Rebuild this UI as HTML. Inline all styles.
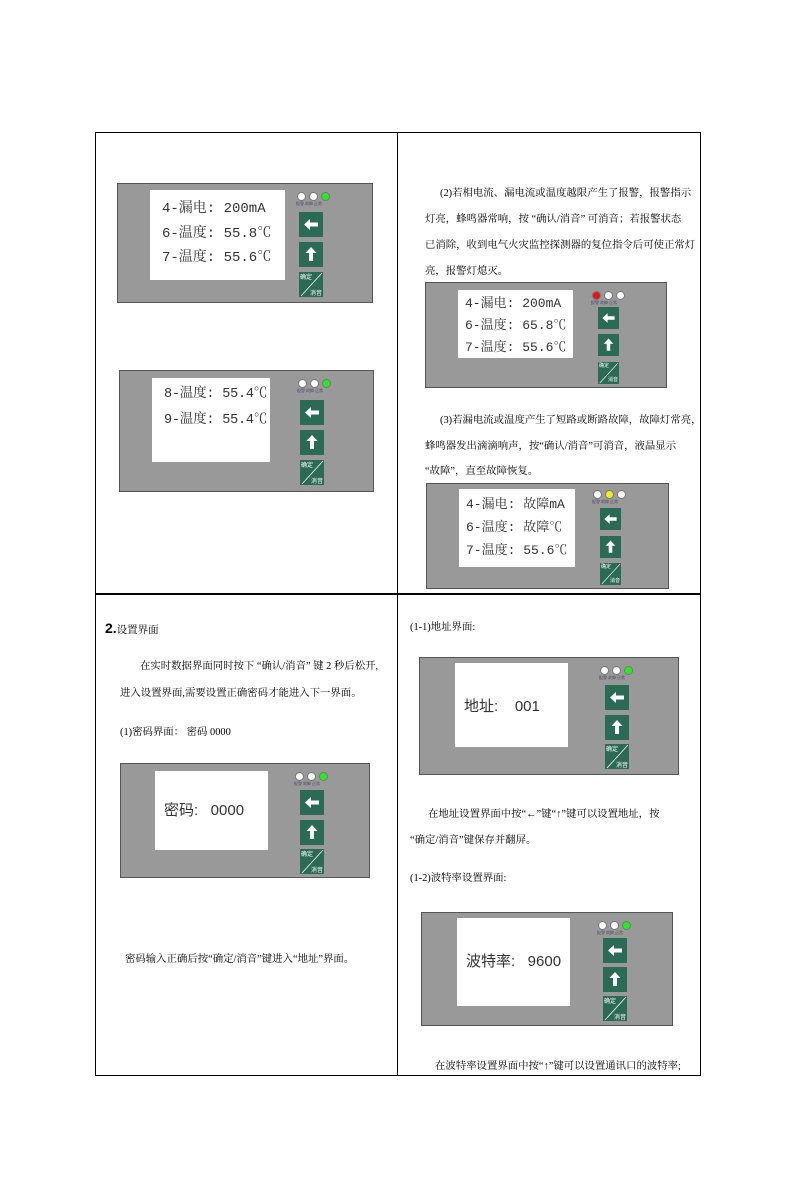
<!DOCTYPE html>
<html><head><meta charset="utf-8">
<style>
body{margin:0;width:800px;height:1200px;background:#fff;position:relative;overflow:hidden;font-family:"Liberation Serif","Noto Serif CJK SC",serif;color:#000}
.a{position:absolute}
.p{position:absolute;background:#999;border:1px solid #555;box-sizing:border-box}
.lcd{position:absolute;background:#fff;box-sizing:border-box;color:#333;font-family:"Liberation Mono","Noto Serif CJK SC",monospace;white-space:nowrap;overflow:hidden}
.ctl{position:absolute;width:30px;height:110px}
.led{position:absolute;top:0;width:9px;height:9px;border-radius:50%;background:#fff;border:1px solid #777;box-sizing:border-box}
.lab{position:absolute;top:9px;font-size:4px;color:#335;white-space:nowrap;left:-1px}
.b{position:absolute;left:2px;width:24px;height:25px;background:#2b6a55;overflow:hidden}
.s .b{width:21px;height:22px}
.b svg{position:absolute;left:0;top:0;width:100%;height:100%}
.b3 i{position:absolute;font-style:normal;font-size:6px;line-height:7px;color:#fff;font-family:"Noto Sans CJK SC",sans-serif;white-space:nowrap}
.s .b3 i{font-size:5px;line-height:6px}
.t{position:absolute;font-size:10.4px;white-space:nowrap;font-family:"Liberation Serif","Noto Serif CJK SC",serif}
</style></head><body>
<div class="a" style="left:95px;top:132px;width:606px;height:944px;border:1px solid #000;box-sizing:border-box"></div>
<div class="a" style="left:397px;top:132px;width:1px;height:944px;background:#000"></div>
<div class="a" style="left:95px;top:593px;width:606px;height:2px;background:#000"></div>

<!-- Panel 1 -->
<div class="p" style="left:117px;top:183px;width:256px;height:120px"></div>
<div class="lcd" style="left:150px;top:190px;width:135px;height:90px;font-size:14px;line-height:24.5px;padding:7px 0 0 12px">4-漏电: 200mA<br>6-温度: 55.8℃<br>7-温度: 55.6℃</div>
<div class="ctl" style="left:297px;top:192px">
<div class="led" style="left:0"></div><div class="led" style="left:12px"></div><div class="led" style="left:24px;background:#2e2"></div>
<div class="lab">报警 故障 正常</div>
<div class="b" style="top:20px"><svg viewBox="0 0 24 25"><path d="M5 12.5 L11 7 L11 10.5 L19 10.5 L19 14.5 L11 14.5 L11 18 Z" fill="#fff"/></svg></div>
<div class="b" style="top:50px"><svg viewBox="0 0 24 25"><path d="M12 5 L17.5 11 L14 11 L14 19 L10 19 L10 11 L6.5 11 Z" fill="#fff"/></svg></div>
<div class="b b3" style="top:80px"><svg viewBox="0 0 24 25"><line x1="2" y1="24" x2="23" y2="1" stroke="#fff" stroke-width="0.8"/></svg><i style="left:1px;top:1px">确定</i><i style="right:1px;bottom:1px">消音</i></div>
</div>

<!-- Panel 2 -->
<div class="p" style="left:119px;top:370px;width:255px;height:122px"></div>
<div class="lcd" style="left:152px;top:378px;width:118px;height:84px;font-size:13.5px;line-height:26px;padding:4px 0 0 12px;letter-spacing:-0.2px">8-温度: 55.4℃<br>9-温度: 55.4℃</div>
<div class="ctl" style="left:298px;top:379px">
<div class="led" style="left:0"></div><div class="led" style="left:12px"></div><div class="led" style="left:24px;background:#2e2"></div>
<div class="lab">报警 故障 正常</div>
<div class="b" style="top:21px"><svg viewBox="0 0 24 25"><path d="M5 12.5 L11 7 L11 10.5 L19 10.5 L19 14.5 L11 14.5 L11 18 Z" fill="#fff"/></svg></div>
<div class="b" style="top:51px"><svg viewBox="0 0 24 25"><path d="M12 5 L17.5 11 L14 11 L14 19 L10 19 L10 11 L6.5 11 Z" fill="#fff"/></svg></div>
<div class="b b3" style="top:81px"><svg viewBox="0 0 24 25"><line x1="2" y1="24" x2="23" y2="1" stroke="#fff" stroke-width="0.8"/></svg><i style="left:1px;top:1px">确定</i><i style="right:1px;bottom:1px">消音</i></div>
</div>

<div class="t" style="left:440px;top:184px">(2)若相电流、漏电流或温度越限产生了报警，报警指示</div>
<div class="t" style="left:425px;top:210px">灯亮，蜂鸣器常响，按 “确认/消音” 可消音；若报警状态</div>
<div class="t" style="left:425px;top:236px">已消除，收到电气火灾监控探测器的复位指令后可使正常灯</div>
<div class="t" style="left:425px;top:262px">亮，报警灯熄灭。</div>

<!-- Panel 3 -->
<div class="p" style="left:425px;top:282px;width:242px;height:106px"></div>
<div class="lcd" style="left:458px;top:290px;width:115px;height:68px;font-size:13px;line-height:22px;padding:3px 0 0 7px">4-漏电: 200mA<br>6-温度: 65.8℃<br>7-温度: 55.6℃</div>
<div class="ctl s" style="left:592px;top:291px">
<div class="led" style="left:0;background:#e11"></div><div class="led" style="left:12px"></div><div class="led" style="left:24px"></div>
<div class="lab">报警 故障 正常</div>
<div class="b" style="top:16px;left:6px"><svg viewBox="0 0 24 25"><path d="M5 12.5 L11 7 L11 10.5 L19 10.5 L19 14.5 L11 14.5 L11 18 Z" fill="#fff"/></svg></div>
<div class="b" style="top:43px;left:6px"><svg viewBox="0 0 24 25"><path d="M12 5 L17.5 11 L14 11 L14 19 L10 19 L10 11 L6.5 11 Z" fill="#fff"/></svg></div>
<div class="b b3" style="top:71px;left:6px"><svg viewBox="0 0 24 25"><line x1="2" y1="24" x2="23" y2="1" stroke="#fff" stroke-width="0.8"/></svg><i style="left:1px;top:1px">确定</i><i style="right:1px;bottom:1px">消音</i></div>
</div>

<div class="t" style="left:440px;top:411px">(3)若漏电流或温度产生了短路或断路故障，故障灯常亮，</div>
<div class="t" style="left:425px;top:437px">蜂鸣器发出滴滴响声，按“确认/消音”可消音，液晶显示</div>
<div class="t" style="left:425px;top:462px">“故障”，直至故障恢复。</div>

<!-- Panel 4 -->
<div class="p" style="left:426px;top:483px;width:243px;height:106px"></div>
<div class="lcd" style="left:459px;top:489px;width:116px;height:78px;font-size:13px;line-height:23px;padding:4px 0 0 7px">4-漏电: 故障mA<br>6-温度: 故障℃<br>7-温度: 55.6℃</div>
<div class="ctl s" style="left:593px;top:490px">
<div class="led" style="left:0"></div><div class="led" style="left:12px;background:#ee2"></div><div class="led" style="left:24px"></div>
<div class="lab">报警 故障 正常</div>
<div class="b" style="top:18px;left:7px"><svg viewBox="0 0 24 25"><path d="M5 12.5 L11 7 L11 10.5 L19 10.5 L19 14.5 L11 14.5 L11 18 Z" fill="#fff"/></svg></div>
<div class="b" style="top:46px;left:7px"><svg viewBox="0 0 24 25"><path d="M12 5 L17.5 11 L14 11 L14 19 L10 19 L10 11 L6.5 11 Z" fill="#fff"/></svg></div>
<div class="b b3" style="top:73px;left:7px"><svg viewBox="0 0 24 25"><line x1="2" y1="24" x2="23" y2="1" stroke="#fff" stroke-width="0.8"/></svg><i style="left:1px;top:1px">确定</i><i style="right:1px;bottom:1px">消音</i></div>
</div>

<!-- Section 2 left -->
<div class="t" style="left:105px;top:620px;font-size:10.5px"><b style="font-size:14px;font-family:'Liberation Sans',sans-serif">2.</b>设置界面</div>
<div class="t" style="left:140px;top:657px">在实时数据界面同时按下 “确认/消音” 键 2 秒后松开,</div>
<div class="t" style="left:120px;top:684px">进入设置界面,需要设置正确密码才能进入下一界面。</div>
<div class="t" style="left:120px;top:723px">(1)密码界面： 密码 0000</div>

<!-- Panel 5 -->
<div class="p" style="left:120px;top:763px;width:250px;height:115px"></div>
<div class="lcd" style="left:155px;top:771px;width:113px;height:79px;font-size:15px;line-height:79px;padding-left:9px;font-family:'Liberation Sans','Noto Sans CJK SC',sans-serif">密码:&nbsp;&nbsp; 0000</div>
<div class="ctl" style="left:295px;top:772px">
<div class="led" style="left:0"></div><div class="led" style="left:12px"></div><div class="led" style="left:24px;background:#2e2"></div>
<div class="lab">报警 故障 正常</div>
<div class="b" style="top:18px;left:5px"><svg viewBox="0 0 24 25"><path d="M5 12.5 L11 7 L11 10.5 L19 10.5 L19 14.5 L11 14.5 L11 18 Z" fill="#fff"/></svg></div>
<div class="b" style="top:48px;left:5px"><svg viewBox="0 0 24 25"><path d="M12 5 L17.5 11 L14 11 L14 19 L10 19 L10 11 L6.5 11 Z" fill="#fff"/></svg></div>
<div class="b b3" style="top:77px;left:5px"><svg viewBox="0 0 24 25"><line x1="2" y1="24" x2="23" y2="1" stroke="#fff" stroke-width="0.8"/></svg><i style="left:1px;top:1px">确定</i><i style="right:1px;bottom:1px">消音</i></div>
</div>
<div class="t" style="left:125px;top:950px">密码输入正确后按“确定/消音”键进入“地址”界面。</div>

<!-- Section 2 right -->
<div class="t" style="left:410px;top:618px">(1-1)地址界面:</div>
<div class="p" style="left:419px;top:657px;width:260px;height:118px"></div>
<div class="lcd" style="left:455px;top:663px;width:113px;height:84px;font-size:15px;line-height:88px;padding-left:9px;font-family:'Liberation Sans','Noto Sans CJK SC',sans-serif">地址:&nbsp;&nbsp;&nbsp; 001</div>
<div class="ctl" style="left:600px;top:666px">
<div class="led" style="left:0"></div><div class="led" style="left:12px"></div><div class="led" style="left:24px;background:#2e2"></div>
<div class="lab">报警 故障 正常</div>
<div class="b" style="top:19px;left:5px"><svg viewBox="0 0 24 25"><path d="M5 12.5 L11 7 L11 10.5 L19 10.5 L19 14.5 L11 14.5 L11 18 Z" fill="#fff"/></svg></div>
<div class="b" style="top:49px;left:5px"><svg viewBox="0 0 24 25"><path d="M12 5 L17.5 11 L14 11 L14 19 L10 19 L10 11 L6.5 11 Z" fill="#fff"/></svg></div>
<div class="b b3" style="top:78px;left:5px"><svg viewBox="0 0 24 25"><line x1="2" y1="24" x2="23" y2="1" stroke="#fff" stroke-width="0.8"/></svg><i style="left:1px;top:1px">确定</i><i style="right:1px;bottom:1px">消音</i></div>
</div>
<div class="t" style="left:428px;top:805px">在地址设置界面中按“←”键“↑”键可以设置地址，按</div>
<div class="t" style="left:410px;top:831px">“确定/消音”键保存并翻屏。</div>
<div class="t" style="left:410px;top:869px">(1-2)波特率设置界面:</div>

<div class="p" style="left:421px;top:912px;width:252px;height:114px"></div>
<div class="lcd" style="left:457px;top:918px;width:113px;height:88px;font-size:15px;line-height:88px;padding-left:9px;font-family:'Liberation Sans','Noto Sans CJK SC',sans-serif">波特率:&nbsp;&nbsp; 9600</div>
<div class="ctl" style="left:598px;top:921px">
<div class="led" style="left:0"></div><div class="led" style="left:12px"></div><div class="led" style="left:24px;background:#2e2"></div>
<div class="lab">报警 故障 正常</div>
<div class="b" style="top:17px;left:5px"><svg viewBox="0 0 24 25"><path d="M5 12.5 L11 7 L11 10.5 L19 10.5 L19 14.5 L11 14.5 L11 18 Z" fill="#fff"/></svg></div>
<div class="b" style="top:46px;left:5px"><svg viewBox="0 0 24 25"><path d="M12 5 L17.5 11 L14 11 L14 19 L10 19 L10 11 L6.5 11 Z" fill="#fff"/></svg></div>
<div class="b b3" style="top:75px;left:5px"><svg viewBox="0 0 24 25"><line x1="2" y1="24" x2="23" y2="1" stroke="#fff" stroke-width="0.8"/></svg><i style="left:1px;top:1px">确定</i><i style="right:1px;bottom:1px">消音</i></div>
</div>
<div class="t" style="left:435px;top:1057px">在波特率设置界面中按“↑”键可以设置通讯口的波特率;</div>
</body></html>
